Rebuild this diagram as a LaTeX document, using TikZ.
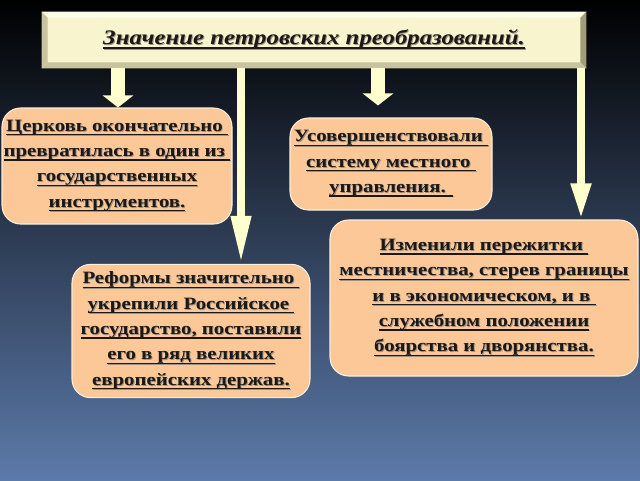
\documentclass[tikz,border=0pt]{standalone}
\usepackage{fontspec}
\setmainfont{Liberation Serif}[FakeStretch=1.2]
\usetikzlibrary{arrows.meta}

\definecolor{bgmid}{RGB}{30,42,66}
\definecolor{bgbottom}{RGB}{92,122,170}
\definecolor{boxfill}{RGB}{252,200,152}
\definecolor{boxline}{RGB}{250,238,222}
\definecolor{arrowfill}{RGB}{255,255,206}
\definecolor{titlefill}{RGB}{247,244,206}
\definecolor{bevellight}{RGB}{253,252,232}
\definecolor{beveldark}{RGB}{160,156,124}
\definecolor{bevelmid}{RGB}{200,196,160}
\definecolor{textdark}{RGB}{28,24,22}
\definecolor{textshadow}{RGB}{158,146,134}

% underlined line with a soft shadow
\newcommand{\ulln}[1]{%
  \setbox0\hbox{#1}%
  \rlap{\hspace{0.7pt}\raisebox{-0.7pt}{\color{textshadow}\copy0\llap{\vrule width\wd0 height -2pt depth 3pt}}}%
  \rlap{\vrule width\wd0 height -2pt depth 3pt}\box0}

\begin{document}
\begin{tikzpicture}[x=0.75pt,y=-0.75pt,
  titlebox/.style={fill=titlefill,minimum width=408pt,minimum height=42pt,inner sep=0pt,
    text=textdark,font=\fontsize{15.5}{19}\selectfont\bfseries\itshape},
  infobox/.style={fill=boxfill,draw=boxline,line width=0.8pt,rounded corners=14pt,
    inner sep=0pt,align=center,text=textdark,font=\fontsize{13}{19}\selectfont\bfseries},
  widearrow/.style={arrowfill,line width=10.5pt,-{Triangle[length=9pt,width=22.5pt]}},
  thinarrow/.style={arrowfill,line width=6pt,-{Triangle[length=#1,width=14pt]}}
]

\useasboundingbox (0,0) rectangle (640,480);
\shade[top color=black,middle color=bgmid,bottom color=bgbottom] (0,0) rectangle (640,480);

\node[titlebox] (title) at (314,40) {\ulln{Значение петровских преобразований.}};
\fill[bevellight] (title.north west) -- (title.north east) -- ++(-6,6) -| ([shift={(6,6)}]title.north west) -- cycle;
\fill[bevelmid] (title.north west) -- (title.south west) -- ++(6,-6) |- ([shift={(6,6)}]title.north west) -- cycle;
\fill[beveldark] (title.north east) -- (title.south east) -- ++(-6,-6) |- ([shift={(-6,6)}]title.north east) -- cycle;
\fill[bevelmid] (title.south west) -- (title.south east) -- ++(-6,-6) -| ([shift={(6,-6)}]title.south west) -- cycle;

\node[infobox,minimum width=172.5pt,minimum height=87pt] (church) at (117,166)
  {\ulln{Церковь окончательно }\\ \ulln{превратилась в один из }\\ \ulln{государственных}\\ \ulln{инструментов.}};

\node[infobox,minimum width=151.5pt,minimum height=69pt] (local) at (391,164)
  {\ulln{Усовершенствовали }\\ \ulln{систему местного }\\ \ulln{управления. }};

\node[infobox,minimum width=231pt,minimum height=117pt] (rank) at (484,298)
  {\ulln{Изменили пережитки }\\ \ulln{местничества, стерев границы}\\ \ulln{и в экономическом, и в }\\ \ulln{служебном положении}\\ \ulln{боярства и дворянства.}};

\node[infobox,minimum width=178.5pt,minimum height=100pt] (state) at (191,331)
  {\ulln{Реформы значительно }\\ \ulln{укрепили Российское }\\ \ulln{государство, поставили}\\ \ulln{его в ряд великих}\\ \ulln{европейских держав.}};

\coordinate (x1) at (118,0);
\coordinate (x2) at (241,0);
\coordinate (x3) at (378,0);
\coordinate (x4) at (581,0);

\draw[widearrow] (title.south -| x1) -- (church.north -| x1);
\draw[thinarrow=36pt] (title.south -| x2) -- (state.north -| x2);
\draw[widearrow,shorten >=9pt] (title.south -| x3) -- (local.north -| x3);
\draw[thinarrow=27pt] (title.south -| x4) -- (rank.north -| x4);

\end{tikzpicture}
\end{document}
